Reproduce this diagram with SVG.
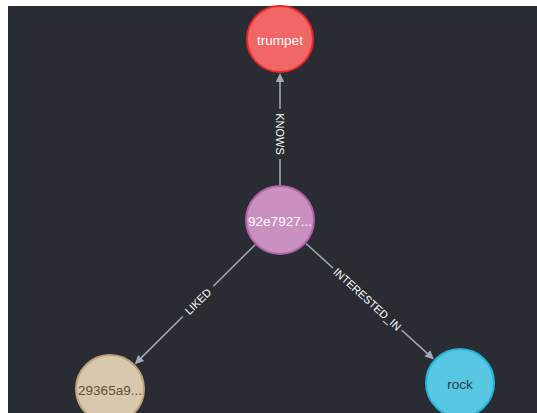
<svg xmlns="http://www.w3.org/2000/svg" width="537" height="413" viewBox="0 0 537 413">
<style>
.edge{stroke:#a5abb6;stroke-width:1.5;fill:none}
.head{fill:#a5abb6}
.elabel{font-family:"Liberation Sans",Arial,sans-serif;font-size:11px;fill:#ffffff;text-anchor:middle;dominant-baseline:central}
.nlabel{font-family:"Liberation Sans",Arial,sans-serif;font-size:13.5px;text-anchor:middle;dominant-baseline:central}
</style>
<rect x="0" y="0" width="537" height="413" fill="#ffffff"/>
<rect x="8" y="6" width="529" height="407" fill="#292c33"/>
<g id="connectors">
  <g id="edge-knows" transform="translate(280,220) rotate(-90)">
    <line class="edge" x1="35" y1="0" x2="61" y2="0"/>
    <line class="edge" x1="111" y1="0" x2="139" y2="0"/>
    <polygon class="head" points="147,0 138,-4.2 138,4.2"/>
    <text class="elabel" transform="translate(86,0) rotate(180)">KNOWS</text>
  </g>
  <g id="edge-liked" transform="translate(280,220) rotate(135.2)">
    <line class="edge" x1="35" y1="0" x2="94" y2="0"/>
    <line class="edge" x1="137" y1="0" x2="196" y2="0"/>
    <polygon class="head" points="204.7,0 195.7,-4.2 195.7,4.2"/>
    <text class="elabel" transform="translate(115.6,0) rotate(180)">LIKED</text>
  </g>
  <g id="edge-interested" transform="translate(280,220) rotate(42.16)">
    <line class="edge" x1="35" y1="0" x2="71.5" y2="0"/>
    <line class="edge" x1="164.3" y1="0" x2="199" y2="0"/>
    <polygon class="head" points="207.8,0 198.8,-4.2 198.8,4.2"/>
    <text class="elabel" x="117.9" y="0">INTERESTED_IN</text>
  </g>
</g>
<g id="node-trumpet">
  <circle cx="280" cy="39" r="33" fill="#f16667" stroke="#eb2728" stroke-width="2"/>
  <text class="nlabel" x="280" y="40" fill="#ffffff">trumpet</text>
</g>
<g id="node-92e7927">
  <circle cx="280" cy="220" r="34" fill="#c990c0" stroke="#b261a5" stroke-width="2"/>
  <text class="nlabel" x="280" y="221" fill="#ffffff">92e7927...</text>
</g>
<g id="node-29365a9">
  <circle cx="110" cy="389" r="34" fill="#d9c8ae" stroke="#c0a378" stroke-width="2"/>
  <text class="nlabel" x="110" y="390" fill="#5b5040">29365a9...</text>
</g>
<g id="node-rock">
  <circle cx="460" cy="383" r="34" fill="#57c7e3" stroke="#23b3d7" stroke-width="2"/>
  <text class="nlabel" x="460" y="384" fill="#2a3a44">rock</text>
</g>
</svg>
